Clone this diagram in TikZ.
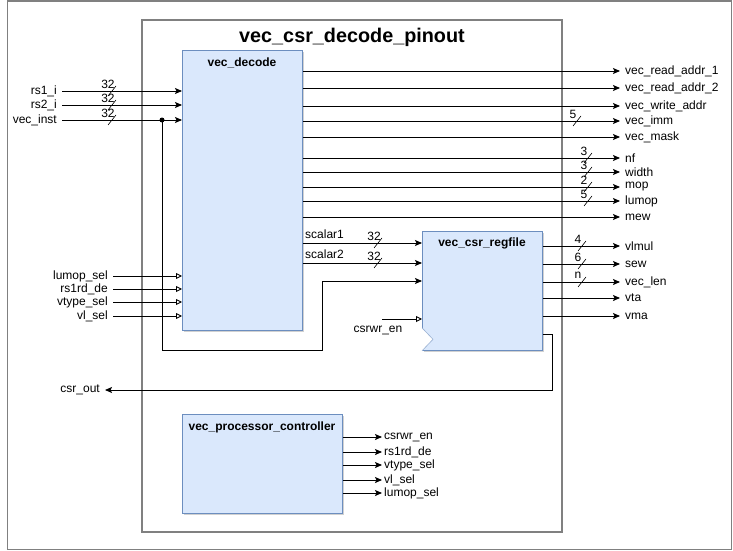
\documentclass[tikz,border=0pt]{standalone}
\usepackage{fontspec}
\setmainfont{Liberation Sans}
\usetikzlibrary{arrows.meta,shadows}
\definecolor{blueF}{HTML}{DAE8FC}
\definecolor{blueB}{HTML}{6C8EBF}
\definecolor{frameC}{HTML}{808080}
\tikzset{
  frameline/.style={draw=frameC, line width=1.5pt},
  blk/.style={draw=blueB, fill=blueF, line width=0.8pt, anchor=north west, inner sep=0pt,
    drop shadow={shadow xshift=2pt, shadow yshift=-2pt, fill=black, opacity=0.18}},
  lbl/.style={font=\fontsize{12}{14}\selectfont, inner sep=1pt},
  ttl/.style={font=\fontsize{12}{14}\selectfont\bfseries, inner sep=0pt},
  wire/.style={line width=0.9pt},
  arr/.style={wire, -{Stealth[length=7pt,width=6pt,inset=1.5pt]}},
  oarr/.style={wire, -{Triangle[open,length=6pt,width=6pt,fill=white]}},
}
\newcommand\busmk[3]{%
  \draw[line width=0.6pt] (#1-4,#2+5) -- (#1+4,#2-5);
  \node[lbl, inner sep=0pt] at (#1-4,#2-7) {#3};}
\begin{document}
\begin{tikzpicture}[x=1pt,y=-1pt]
\useasboundingbox (0,0) rectangle (733,551);
% frames
\draw[frameline] (7.5,1) rectangle (731.5,549.5);
\draw[frameline] (142,20) rectangle (562,532);
\node[font=\fontsize{19.8}{23}\selectfont\bfseries, inner sep=0pt] (title) at (352,37) {vec\_csr\_decode\_pinout};

% blocks
\node[blk, minimum width=120pt, minimum height=280pt] (dec) at (182,50) {};
\node[ttl] (dect) at (242,63) {vec\_decode};
\node[blk, minimum width=120pt, minimum height=119pt] (rf) at (422,231) {};
\node[ttl] (rft) at (482,243) {vec\_csr\_regfile};
\draw[draw=blueB!70, fill=white, line width=0.6pt] ([yshift=23pt]rf.south west) -- ([xshift=11pt,yshift=11.5pt]rf.south west) -- (rf.south west);
\node[blk, minimum width=160pt, minimum height=99pt] (ctl) at (182,414) {};
\node[ttl] (ctlt) at (262,427) {vec\_processor\_controller};

% inputs of vec_decode
\node[lbl, anchor=east] (i1) at (58,91) {rs1\_i};
\node[lbl, anchor=east] (i2) at (58,105) {rs2\_i};
\node[lbl, anchor=east] (i3) at (58,120) {vec\_inst};
\draw[arr] ([xshift=4pt]i1.east) -- (dec.west |- i1);
\draw[arr] ([xshift=4pt]i2.east) -- (dec.west |- i2);
\draw[arr] ([xshift=4pt]i3.east) -- (dec.west |- i3);
\busmk{112}{91}{32}
\busmk{112}{105}{32}
\busmk{112}{120}{32}
\coordinate (j) at (162,120);
\fill (j) circle (2.5pt);

% control inputs of vec_decode
\node[lbl, anchor=east] (c1) at (109,276) {lumop\_sel};
\node[lbl, anchor=east] (c2) at (109,289) {rs1rd\_de};
\node[lbl, anchor=east] (c3) at (109,302) {vtype\_sel};
\node[lbl, anchor=east] (c4) at (109,316) {vl\_sel};
\foreach \c in {c1,c2,c3,c4}
  \draw[oarr] ([xshift=4pt]\c.east) -- (dec.west |- \c);

% outputs of vec_decode
\node[lbl, anchor=west] (o1) at (624,71) {vec\_read\_addr\_1};
\node[lbl, anchor=west] (o2) at (624,88) {vec\_read\_addr\_2};
\node[lbl, anchor=west] (o3) at (624,106) {vec\_write\_addr};
\node[lbl, anchor=west] (o4) at (624,121) {vec\_imm};
\node[lbl, anchor=west] (o5) at (624,137) {vec\_mask};
\node[lbl, anchor=west] (o6) at (624,158) {nf};
\node[lbl, anchor=west] (o7) at (624,172) {width};
\node[lbl, anchor=west] (o8) at (624,187) {mop};
\node[lbl, anchor=west] (o9) at (624,201) {lumop};
\node[lbl, anchor=west] (o10) at (624,217) {mew};
\foreach \o in {o1,o2,o3,o4,o5,o6,o7,o8,o9,o10}
  \draw[arr] (dec.east |- \o) -- ([xshift=-4pt]\o.west);
\busmk{577}{121}{5}
\busmk{588}{158}{3}
\busmk{588}{172}{3}
\busmk{588}{187}{2}
\busmk{588}{201}{5}

% scalars to regfile
\draw[arr] (dec.east |- 0,243) -- (rf.west |- 0,243);
\draw[arr] (dec.east |- 0,263) -- (rf.west |- 0,263);
\node[lbl, anchor=south west] (s1) at (304,240) {scalar1};
\node[lbl, anchor=south west] (s2) at (304,260) {scalar2};
\busmk{378}{243}{32}
\busmk{378}{263}{32}

% vec_inst feedback to regfile
\draw[arr] (j) -- (j |- 0,350) -- (322,350) -- (322,281) -- (rf.west |- 0,281);

% csrwr_en into regfile
\node[lbl] (cw) at (378,330) {csrwr\_en};
\coordinate (cws) at (382,319);
\draw[oarr] (cws) -- (rf.west |- cws);

% outputs of regfile
\node[lbl, anchor=west] (r1) at (624,246) {vlmul};
\node[lbl, anchor=west] (r2) at (624,264) {sew};
\node[lbl, anchor=west] (r3) at (624,282) {vec\_len};
\node[lbl, anchor=west] (r4) at (624,298) {vta};
\node[lbl, anchor=west] (r5) at (624,316) {vma};
\foreach \r in {r1,r2,r3,r4,r5}
  \draw[arr] (rf.east |- \r) -- ([xshift=-4pt]\r.west);
\busmk{582}{246}{4}
\busmk{582}{264}{6}
\busmk{582}{282}{n}

% csr_out
\node[lbl, anchor=east] (co) at (101,390) {csr\_out};
\draw[arr] (rf.east |- 0,334) -- (552,334) -- (552,390) -- ([xshift=4pt]co.east);

% controller outputs
\node[lbl, anchor=west] (k1) at (383,437) {csrwr\_en};
\node[lbl, anchor=west] (k2) at (383,452) {rs1rd\_de};
\node[lbl, anchor=west] (k3) at (383,465) {vtype\_sel};
\node[lbl, anchor=west] (k4) at (383,480) {vl\_sel};
\node[lbl, anchor=west] (k5) at (383,493) {lumop\_sel};
\foreach \k in {k1,k2,k3,k4,k5}
  \draw[arr] (ctl.east |- \k) -- ([xshift=-1pt]\k.west);
\end{tikzpicture}
\end{document}
